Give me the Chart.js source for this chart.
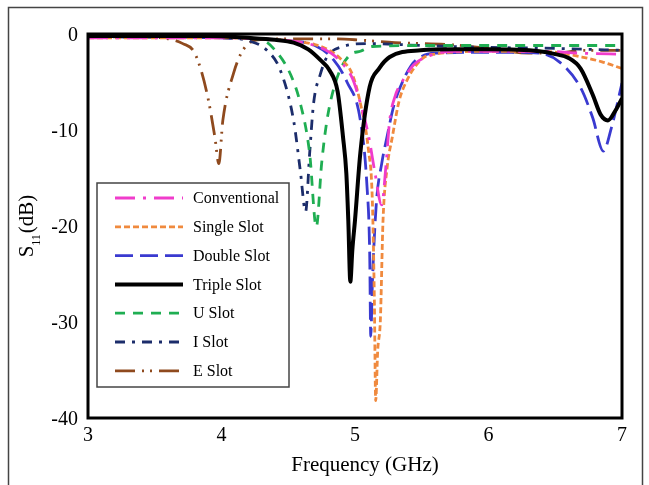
<!DOCTYPE html>
<html><head><meta charset="utf-8">
<script src="https://cdn.jsdelivr.net/npm/chart.js@4.4.1/dist/chart.umd.min.js"></script>
<style>html,body{margin:0;padding:0;background:#fff;}canvas{display:block;}</style>
</head><body>
<canvas id="c" width="649" height="485"></canvas>
<script>
// ---- data ----
const seriesNames = ["Conventional", "Single Slot", "Double Slot", "Triple Slot", "U Slot", "I Slot", "E Slot"];

const convFreq = [3.0,3.5,4.0,4.3,4.5,4.7,4.82,4.9,4.98,5.04,5.1,5.15,5.2,5.23,5.26,5.3,5.36,5.44,5.55,5.75,6.0,6.4,6.7,7.0];
const convS11  = [-0.4,-0.4,-0.4,-0.5,-0.7,-1.2,-2.0,-3.0,-4.6,-7.2,-10.5,-14.5,-17.8,-14.0,-9.0,-6.5,-4.8,-3.2,-2.3,-1.8,-1.8,-1.8,-2.0,-2.1];

const singleFreq = [3.0,3.5,4.0,4.3,4.5,4.7,4.82,4.9,4.98,5.04,5.1,5.13,5.145,5.155,5.17,5.19,5.21,5.24,5.28,5.33,5.39,5.45,5.52,5.6,6.0,6.4,6.7,6.85,7.0];
const singleS11  = [-0.4,-0.4,-0.4,-0.5,-0.7,-1.1,-1.8,-2.7,-4.2,-7.2,-12.0,-17.4,-27.7,-38.2,-33.0,-29.8,-19.4,-14.0,-10.7,-7.0,-4.8,-3.4,-2.4,-2.1,-1.8,-1.8,-2.4,-2.9,-3.6];

const doubleFreq = [3.0,3.5,4.0,4.3,4.5,4.7,4.84,4.94,5.04,5.09,5.11,5.118,5.13,5.16,5.2,5.24,5.29,5.34,5.42,5.49,5.6,6.07,6.38,6.53,6.69,6.78,6.86,6.92,7.0];
const doubleS11  = [-0.3,-0.3,-0.4,-0.5,-0.7,-1.2,-2.7,-5.0,-9.0,-15.9,-22.8,-31.5,-26.0,-17.6,-13.5,-10.7,-7.5,-5.5,-3.3,-2.4,-2.0,-1.9,-2.0,-2.9,-5.6,-8.7,-12.2,-9.8,-5.1];

const tripleFreq = [3.0,3.5,3.9,4.2,4.4,4.54,4.65,4.74,4.81,4.87,4.91,4.935,4.95,4.965,4.98,5.0,5.04,5.11,5.18,5.26,5.49,5.75,6.0,6.38,6.5,6.6,6.69,6.78,6.84,6.895,6.95,7.0];
const tripleS11  = [-0.2,-0.2,-0.2,-0.4,-0.6,-0.9,-1.6,-2.7,-3.8,-6.0,-10.7,-14.5,-19.5,-25.8,-22.5,-19.4,-12.4,-5.5,-3.6,-2.4,-1.7,-1.6,-1.6,-1.8,-2.1,-2.5,-3.6,-6.3,-8.4,-9.0,-8.0,-6.7];

const uFreq = [3.0,3.5,4.0,4.3,4.42,4.52,4.59,4.66,4.71,4.75,4.79,4.86,4.96,5.04,5.13,5.5,6.0,6.5,7.0];
const uS11  = [-0.2,-0.2,-0.3,-0.6,-2.0,-4.3,-7.2,-12.4,-20.1,-13.5,-9.0,-4.8,-2.2,-1.8,-1.3,-1.2,-1.2,-1.2,-1.2];

const iFreq = [3.0,3.5,4.0,4.2,4.34,4.44,4.54,4.59,4.63,4.66,4.69,4.74,4.79,4.91,5.1,5.5,6.0,6.5,7.0];
const iS11  = [-0.3,-0.3,-0.4,-0.7,-1.7,-3.75,-9.0,-14.2,-18.5,-12.5,-7.2,-4.2,-2.4,-1.3,-1.0,-1.2,-1.4,-1.5,-1.7];

const eFreq = [3.0,3.4,3.6,3.71,3.80,3.89,3.95,3.98,4.01,4.09,4.16,4.27,4.5,4.8,5.0,5.3,5.7,6.0,6.3,6.5,6.7,7.0];
const eS11  = [-0.3,-0.3,-0.5,-1.0,-2.0,-6.1,-10.7,-13.5,-9.0,-4.1,-1.7,-0.6,-0.5,-0.5,-0.6,-0.9,-1.1,-1.5,-2.0,-2.0,-1.7,-1.7];

const xTickValues = [3, 4, 5, 6, 7];
const yTickValues = [0, -10, -20, -30, -40];
const xTitle = "Frequency (GHz)";

// ---- styles ----
const FONT = '"Liberation Serif", "Times New Roman", serif';
const pts = (fs, vs) => fs.map((f, i) => ({x: f, y: vs[i]}));
const styles = [
  {color: '#f03ccb', dash: [20, 8, 3, 8], width: 2.8},
  {color: '#f08a3e', dash: [6, 3], width: 2.8},
  {color: '#3a3ad0', dash: [18, 7], width: 2.8},
  {color: '#000000', dash: [], width: 4},
  {color: '#1fae52', dash: [10, 8], width: 2.8},
  {color: '#1c2d6b', dash: [10, 7, 3, 7], width: 2.8},
  {color: '#8f4a1e', dash: [20, 7, 2, 6, 2, 7], width: 2.8}
];
const seriesData = [
  pts(convFreq, convS11), pts(singleFreq, singleS11), pts(doubleFreq, doubleS11),
  pts(tripleFreq, tripleS11), pts(uFreq, uS11), pts(iFreq, iS11), pts(eFreq, eS11)
];
const datasets = seriesNames.map((name, i) => ({
  label: name,
  data: seriesData[i],
  borderColor: styles[i].color,
  borderDash: styles[i].dash,
  borderWidth: styles[i].width,
  pointRadius: 0,
  fill: false,
  cubicInterpolationMode: 'monotone',
  order: i === 3 ? 0 : 1
}));

const decorPlugin = {
  id: 'decor',
  beforeDraw(chart) {
    const ctx = chart.ctx;
    ctx.save();
    ctx.strokeStyle = '#444';
    ctx.lineWidth = 1.5;
    ctx.beginPath();
    ctx.moveTo(8.5, 490); ctx.lineTo(8.5, 7.5); ctx.lineTo(642.5, 7.5); ctx.lineTo(642.5, 490);
    ctx.stroke();
    ctx.restore();
  },
  afterDraw(chart) {
    const ctx = chart.ctx;
    const a = chart.chartArea;
    ctx.save();
    ctx.strokeStyle = '#000';
    ctx.lineWidth = 3;
    ctx.strokeRect(a.left, a.top, a.right - a.left, a.bottom - a.top);

    ctx.fillStyle = '#000';
    ctx.font = '21px ' + FONT;
    ctx.textAlign = 'center';
    ctx.textBaseline = 'middle';
    ctx.fillText(xTitle, 365, 465);

    ctx.save();
    ctx.translate(33, 226);
    ctx.rotate(-Math.PI / 2);
    ctx.textBaseline = 'alphabetic';
    ctx.textAlign = 'left';
    const big = '21px ' + FONT, small = '12px ' + FONT;
    ctx.font = big; const wS = ctx.measureText('S').width; const wD = ctx.measureText('(dB)').width;
    ctx.font = small; const w11 = ctx.measureText('11').width;
    let x0 = -(wS + w11 + 1 + wD) / 2;
    ctx.font = big; ctx.fillText('S', x0, 0);
    ctx.font = small; ctx.fillText('11', x0 + wS, 7);
    ctx.font = big; ctx.fillText('(dB)', x0 + wS + w11 + 1, 0);
    ctx.restore();

    const bx = 97, by = 183, bw = 192, bh = 204;
    ctx.fillStyle = '#fff';
    ctx.fillRect(bx, by, bw, bh);
    ctx.strokeStyle = '#444';
    ctx.lineWidth = 1.5;
    ctx.strokeRect(bx, by, bw, bh);
    ctx.font = '16px ' + FONT;
    ctx.textAlign = 'left';
    ctx.textBaseline = 'middle';
    chart.data.datasets.forEach((ds, i) => {
      const y = 198 + i * 28.8;
      ctx.save();
      ctx.beginPath();
      ctx.rect(113, y - 5, 72, 10);
      ctx.clip();
      ctx.strokeStyle = ds.borderColor;
      ctx.lineWidth = ds.borderWidth;
      ctx.setLineDash(ds.borderDash);
      ctx.beginPath();
      ctx.moveTo(115, y); ctx.lineTo(183, y);
      ctx.stroke();
      ctx.restore();
      ctx.fillStyle = '#000';
      ctx.fillText(ds.label, 193, y + 1);
    });
    ctx.restore();
  }
};

new Chart(document.getElementById('c'), {
  type: 'line',
  data: {datasets},
  options: {
    responsive: false,
    animation: false,
    devicePixelRatio: 1,
    layout: {padding: {top: 34, right: 27, bottom: 0, left: 0}},
    plugins: {legend: {display: false}, tooltip: {enabled: false}},
    scales: {
      x: {
        type: 'linear', min: 3, max: 7,
        grid: {display: false, drawTicks: false},
        border: {display: false},
        afterBuildTicks: s => { s.ticks = xTickValues.map(v => ({value: v})); },
        afterFit: s => { s.height = 67; },
        ticks: {padding: 6, color: '#000', font: {family: FONT, size: 20}, maxRotation: 0}
      },
      y: {
        type: 'linear', min: -40, max: 0,
        grid: {display: false, drawTicks: false},
        border: {display: false},
        afterBuildTicks: s => { s.ticks = yTickValues.map(v => ({value: v})); },
        afterFit: s => { s.width = 88; },
        ticks: {padding: 10, labelOffset: 2, color: '#000', font: {family: FONT, size: 20}}
      }
    }
  },
  plugins: [decorPlugin]
});
</script>
</body></html>
